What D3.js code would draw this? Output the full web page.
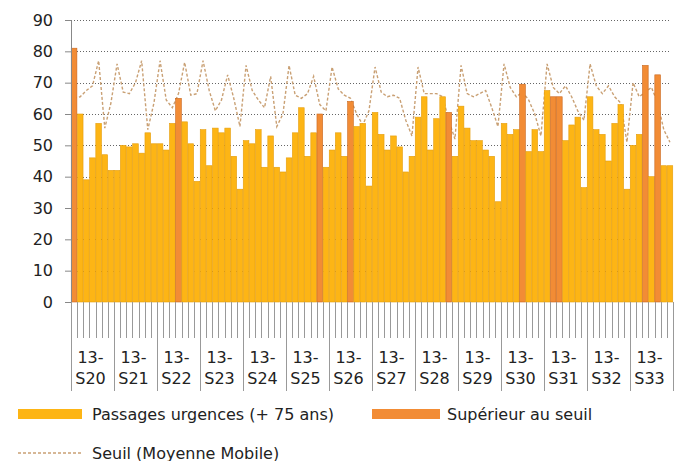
<!DOCTYPE html>
<html>
<head>
<meta charset="utf-8">
<script src="https://cdn.jsdelivr.net/npm/d3@7"></script>
<style>
  body { margin: 0; background: #fff; }
  svg text { font-family: Tahoma, 'DejaVu Sans', sans-serif; font-size: 16px; fill: #222; }
</style>
</head>
<body>
<svg id="chart"></svg>
<script>
// weeks shown on the x axis, 7 days each
const weeks = ['S20', 'S21', 'S22', 'S23', 'S24', 'S25', 'S26', 'S27', 'S28', 'S29', 'S30', 'S31', 'S32', 'S33'];
const yearLabel = '13-';

// daily passages (+75 ans)
const passages = [
    81, 60, 39, 46, 57, 47, 42,
    42, 50, 49.5, 50.5, 47.5, 54, 50.5,
    50.5, 48.5, 57, 65, 57.5, 50.5, 38.5,
    55, 43.5, 55.5, 54, 55.5, 46.5, 36,
    51.5, 50.5, 55, 43, 53, 43, 41.5,
    46, 54, 62, 46.5, 54, 60, 43,
    48.5, 54, 46.5, 64, 56, 57, 37,
    60.5, 53.5, 48.5, 53, 49.5, 41.5, 46.5,
    59, 65.5, 48.5, 58.5, 65.5, 60.5, 46.5,
    62.5, 55.5, 51.5, 51.5, 48.5, 46.5, 32,
    57, 53.5, 55, 69.5, 48, 55, 48,
    67.5, 65.5, 65.5, 51.5, 56.5, 59, 36.5,
    65.5, 55, 53.5, 45, 57, 63, 36,
    50, 53.5, 75.5, 40, 72.5, 43.5, 43.5
];

// seuil (moyenne mobile)
const seuil = [
    65, 65.5, 67.5, 69, 77, 55.5, 63.5,
    76, 67, 66.5, 70, 77, 55, 63.5,
    77, 64.5, 62, 66.5, 76.5, 66, 66.5,
    77, 67.5, 61, 64.5, 72.5, 65, 56,
    75.5, 67.5, 64.5, 62, 72, 56, 60,
    75.5, 66, 65, 66.5, 72, 63, 61,
    75, 68, 66, 65, 60, 56.5, 61,
    75, 67, 65.5, 66, 65, 58, 53,
    75, 66.5, 66.5, 66.5, 65.5, 58, 52,
    75.5, 66.5, 65.5, 66.5, 67.5, 62, 56,
    76, 68.5, 65.5, 67, 64.5, 60, 53,
    76, 68.5, 66.5, 69, 65.5, 61, 58,
    76, 69, 66.5, 69, 65.5, 63.5, 51,
    70, 65.5, 67, 68.5, 63.5, 55, 51
];

// days drawn as "Supérieur au seuil"
const superieur = [0, 17, 40, 45, 61, 73, 78, 79, 93, 95];

const yTicks = [0, 10, 20, 30, 40, 50, 60, 70, 80, 90];

const width = 685;
const height = 461;
const plot = { left: 71, right: 673, top: 20, bottom: 302 };

const yellow = '#FDB515';
const yellowEdge = '#E59D0C';
const orange = '#F28C35';
const orangeEdge = '#C9661C';
const lineColor = '#C9A074';

const svg = d3.select('#chart')
    .attr('width', width)
    .attr('height', height);

const days = d3.range(passages.length);
const x = d3.scaleBand().domain(days).range([plot.left, plot.right]).padding(0);
const y = d3.scaleLinear().domain([0, 90]).range([plot.bottom, plot.top]);
const weekScale = d3.scaleBand().domain(weeks).range([plot.left, plot.right]);

// grid
svg.append('g')
    .selectAll('line')
    .data(yTicks.slice(1))
    .enter()
    .append('line')
    .attr('x1', plot.left)
    .attr('x2', plot.right - 3)
    .attr('y1', (d) => Math.round(y(d)) + 0.5)
    .attr('y2', (d) => Math.round(y(d)) + 0.5)
    .attr('stroke', '#666')
    .attr('stroke-dasharray', '1,2');

// seuil line (behind bars)
svg.append('path')
    .datum(seuil)
    .attr('fill', 'none')
    .attr('stroke', lineColor)
    .attr('stroke-width', 1.4)
    .attr('stroke-dasharray', '3,2')
    .attr('d', d3.line()
        .x((d, i) => x(i) + x.bandwidth() / 2)
        .y((d) => y(d)));

// bars
svg.append('g')
    .selectAll('rect')
    .data(passages)
    .enter()
    .append('rect')
    .attr('x', (d, i) => x(i) + 0.25)
    .attr('y', (d) => y(d))
    .attr('width', x.bandwidth() - 0.5)
    .attr('height', (d) => plot.bottom - y(d))
    .attr('fill', (d, i) => superieur.includes(i) ? orange : yellow)
    .attr('stroke', (d, i) => superieur.includes(i) ? orangeEdge : yellowEdge)
    .attr('stroke-width', 0.6);

// y axis
const yAxis = svg.append('g')
    .attr('transform', `translate(${plot.left}, 0)`)
    .call(d3.axisLeft(y).tickValues(yTicks).tickSize(6).tickPadding(12));
yAxis.select('.domain').attr('stroke', '#888');
yAxis.selectAll('.tick line').attr('stroke', '#888');
yAxis.selectAll('.tick text')
    .style('font-family', "Tahoma, 'DejaVu Sans', sans-serif")
    .style('font-size', '16px')
    .attr('fill', '#222');

// day ticks under the axis
svg.append('g')
    .selectAll('line')
    .data(days)
    .enter()
    .append('line')
    .attr('x1', (d) => Math.round(x(d)) + 0.5)
    .attr('x2', (d) => Math.round(x(d)) + 0.5)
    .attr('y1', plot.bottom)
    .attr('y2', 338)
    .attr('stroke', '#999');

// week separators
svg.append('g')
    .selectAll('line')
    .data(weeks.concat(['end']))
    .enter()
    .append('line')
    .attr('x1', (d) => Math.round(d === 'end' ? plot.right : weekScale(d)) + 0.5)
    .attr('x2', (d) => Math.round(d === 'end' ? plot.right : weekScale(d)) + 0.5)
    .attr('y1', plot.bottom)
    .attr('y2', 391)
    .attr('stroke', '#999');

const weekLabels = svg.append('g')
    .selectAll('text')
    .data(weeks)
    .enter()
    .append('text')
    .attr('text-anchor', 'middle');
weekLabels.append('tspan')
    .attr('x', (d) => weekScale(d) + weekScale.bandwidth() / 2 - 2)
    .attr('y', 363)
    .text(yearLabel);
weekLabels.append('tspan')
    .attr('x', (d) => weekScale(d) + weekScale.bandwidth() / 2 - 2)
    .attr('y', 384)
    .text((d) => d);

// legend
const legend = svg.append('g');
legend.append('rect')
    .attr('x', 18).attr('y', 409).attr('width', 64).attr('height', 10)
    .attr('fill', yellow);
legend.append('text').attr('x', 92).attr('y', 420).text('Passages urgences (+ 75 ans)');
legend.append('rect')
    .attr('x', 372).attr('y', 409).attr('width', 68).attr('height', 10)
    .attr('fill', orange);
legend.append('text').attr('x', 447).attr('y', 420).text('Supérieur au seuil');
legend.append('line')
    .attr('x1', 18).attr('x2', 82).attr('y1', 453).attr('y2', 453)
    .attr('stroke', lineColor)
    .attr('stroke-width', 1.3)
    .attr('stroke-dasharray', '3,2');
legend.append('text').attr('x', 92).attr('y', 459).text('Seuil (Moyenne Mobile)');
</script>
</body>
</html>
